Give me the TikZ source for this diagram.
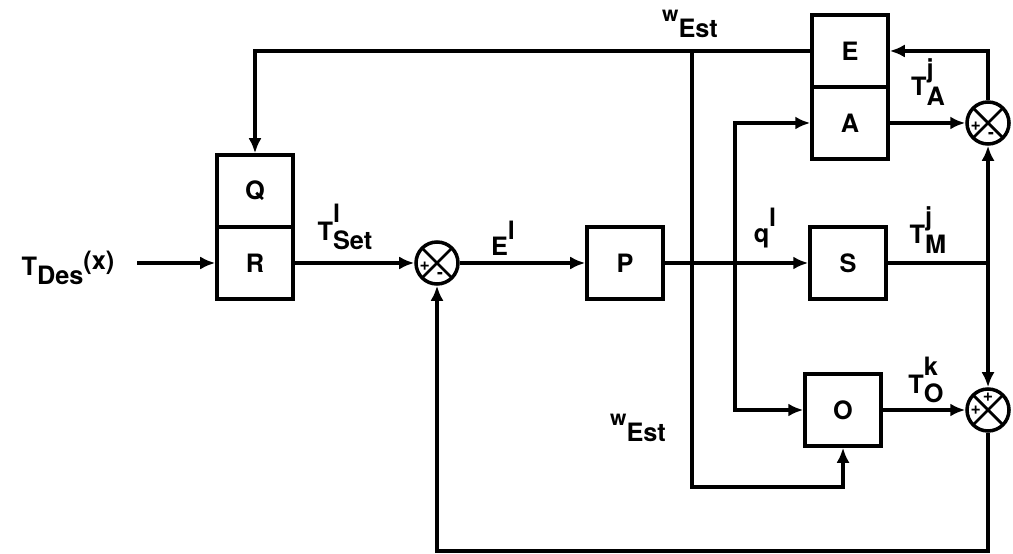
\documentclass[tikz,border=0pt]{standalone}
\usepackage{fontspec}
\setmainfont{TeX Gyre Heros}
\usetikzlibrary{arrows.meta}
\newcommand{\sig}[3]{#1\rlap{\raisebox{1.3ex}{#2}}\raisebox{-0.7ex}{#3}}
\newcommand{\west}{\raisebox{1ex}{\large w}\raisebox{-0.2ex}{Est}}

\begin{document}
\begin{tikzpicture}[x=0.2mm,y=-0.2mm,line width=2pt,
  >={Latex[length=3mm,width=2.6mm]},
  block/.style={draw,minimum width=15.2mm,minimum height=14.4mm,
                font=\Large\bfseries},
  sumnode/.style={circle,draw,minimum size=8.4mm,inner sep=0pt,
    path picture={\draw[line width=1.6pt]
      (path picture bounding box.north west) -- (path picture bounding box.south east)
      (path picture bounding box.north east) -- (path picture bounding box.south west);}},
  sign/.style={inner sep=0pt,font=\normalsize\bfseries},
  lbl/.style={font=\Large\bfseries,inner sep=1pt}]
  \useasboundingbox (0,0) rectangle (1013,554);

  \node[block] (q) at (255,191) {Q};
  \node[block] (r) at (255,263) {R};
  \node[block] (p) at (625,263) {P};
  \node[block] (e) at (850,51) {E};
  \node[block] (a) at (850,123) {A};
  \node[block] (s) at (848,263) {S};
  \node[block] (o) at (843,410) {O};

  \node[sumnode] (s1) at (437,263) {};
  \node[sumnode] (s2) at (988,123) {};
  \node[sumnode] (s3) at (988,410) {};
  \node[sign] (s1p) at ([xshift=2.1mm,yshift=-0.7mm]s1.west) {+};
  \node[sign] (s1m) at ([xshift=0.6mm,yshift=2.1mm]s1.south) {-};
  \node[sign] (s2p) at ([xshift=2.1mm,yshift=-0.7mm]s2.west) {+};
  \node[sign] (s2m) at ([xshift=0.6mm,yshift=2.1mm]s2.south) {-};
  \node[sign] (s3t) at ([yshift=-2.1mm]s3.north) {+};
  \node[sign] (s3l) at ([xshift=2.1mm]s3.west) {+};

  \coordinate (in) at (137,263);
  \coordinate (split) at (735,263);
  \coordinate (tm) at (988,263);
  \coordinate (wtop) at (692,51);
  \coordinate (wbot) at (692,487);
  \coordinate (fb) at (988,551);

  \draw[->] (in) -- (r);
  \draw[->] (r) -- (s1);
  \draw[->] (s1) -- (p);
  \draw[->] (p) -- (s);
  \draw[->] (split) |- (a);
  \draw[->] (split) |- (o);
  \draw (s) -- (tm);
  \draw[->] (tm) -- (s2);
  \draw[->] (tm) -- (s3);
  \draw[->] (a) -- (s2);
  \draw[->] (s2) |- (e);
  \draw[->] (e) -| (q);
  \draw[->] (wtop) -- (wbot) -| (o);
  \draw[->] (o) -- (s3);
  \draw[->] (s3) -- (fb) -| (s1);

  \node[lbl] (tdes) at (68,268) {\sig{T}{}{Des}\raisebox{0.4ex}{(x)}};
  \node[lbl] (tset) at (345,227) {\sig{T}{l}{Set}};
  \node[lbl] (el) at (503,238) {E\raisebox{1.2ex}{l}};
  \node[lbl] (ql) at (765,228) {q\raisebox{1.2ex}{l}};
  \node[lbl] (ta) at (928,82) {\sig{T}{j}{A}};
  \node[lbl] (tmj) at (928,230) {\sig{T}{j}{M}};
  \node[lbl] (to) at (926,380) {\sig{T}{k}{O}};
  \node[lbl] (w1) at (690,24) {\west};
  \node[lbl] (w2) at (638,428) {\west};
\end{tikzpicture}
\end{document}
